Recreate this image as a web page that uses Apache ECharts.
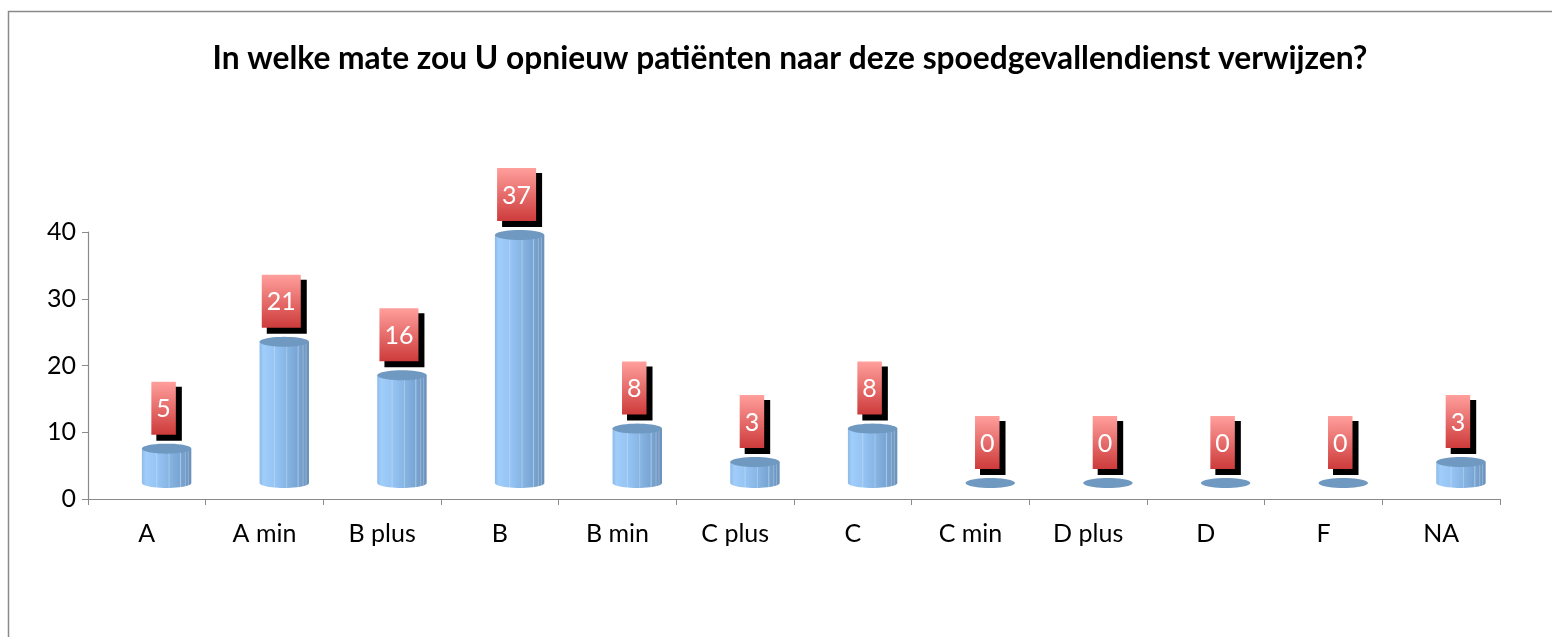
<!DOCTYPE html>
<html>
<head>
<meta charset="utf-8">
<script src="https://cdn.jsdelivr.net/npm/echarts@6/dist/echarts.min.js"></script>
<style>
html,body{margin:0;padding:0;background:#fff;}
#chart{width:1552px;height:637px;}
</style>
</head>
<body>
<div id="chart"></div>
<script>
const titleText = 'In welke mate zou U opnieuw patiënten naar deze spoedgevallendienst verwijzen?';
const categories = ['A', 'A min', 'B plus', 'B', 'B min', 'C plus', 'C', 'C min', 'D plus', 'D', 'F', 'NA'];
const values = [5, 21, 16, 37, 8, 3, 8, 0, 0, 0, 0, 3];
const yMin = 0, yMax = 40, yInterval = 10;

const FONT = 'Lato, "Open Sans", sans-serif';
const measureCtx = document.createElement('canvas').getContext('2d');
function textWidth(t, font) { measureCtx.font = font; return measureCtx.measureText(t).width; }
const titleSize = 30 * 1155 / textWidth(titleText, 'bold 30px ' + FONT);
const labelFontSize = 25;

function ellipsePts(cx, cy, rx, ry, a0, a1, n) {
  const pts = [];
  for (let k = 0; k <= n; k++) {
    const a = a0 + (a1 - a0) * k / n;
    pts.push([cx + rx * Math.cos(a), cy + ry * Math.sin(a)]);
  }
  return pts;
}

function renderItem(params, api) {
  const i = api.value(0);
  const v = api.value(1);
  const base = api.coord([i, 0]);
  const top = api.coord([i, v]);
  const band = api.size([1, 0])[0];
  const w = band * 0.42;
  const cx = base[0] + band * 0.168;
  const L = cx - w / 2, R = cx + w / 2;
  const yb = base[1] - 16;
  const yt = v > 0 ? top[1] - 17 : yb;
  const ry = 5;
  const children = [];
  if (v > 0) {
    const body = [[L, yt]].concat(ellipsePts(cx, yb, w / 2, ry, Math.PI, 0, 24));
    body.push([R, yt]);
    children.push({
      type: 'polygon', shape: { points: body },
      style: { fill: new echarts.graphic.LinearGradient(0, 0, 1, 0, [
        { offset: 0, color: '#8dbbe9' },
        { offset: 0.08, color: '#a0cdfa' },
        { offset: 0.35, color: '#93c2f2' },
        { offset: 0.6, color: '#83b1e0' },
        { offset: 0.76, color: '#79a5d3' },
        { offset: 0.78, color: '#a6c9ed' },
        { offset: 0.80, color: '#7aa4d0' },
        { offset: 1, color: '#6890bb' }
      ]) }
    });
    [0.3, 0.55, 0.88, 0.94].forEach(f => {
      const dy = ry * Math.sqrt(Math.max(0, 1 - Math.pow((f - 0.5) * 2, 2)));
      children.push({ type: 'line', shape: { x1: L + w * f, y1: yt, x2: L + w * f, y2: yb + dy },
        style: { stroke: 'rgba(255,255,255,0.28)', lineWidth: 1 } });
    });
  }
  children.push({
    type: 'polygon', shape: { points: ellipsePts(cx, yt, w / 2, ry, 0, Math.PI * 2, 40) },
    style: { fill: '#7099c2' }
  });
  // label
  const txt = String(values[i]);
  const tw = textWidth(txt, labelFontSize + 'px ' + FONT);
  const bw = tw + 10, bh = 53;
  const bx = cx - 3 - bw / 2;
  const by = yt - 14 - bh;
  children.push({ type: 'rect', shape: { x: bx + 5, y: by + 5, width: bw + 1, height: bh + 1 }, style: { fill: '#000' } });
  children.push({ type: 'rect', shape: { x: bx, y: by, width: bw, height: bh },
    style: { fill: new echarts.graphic.LinearGradient(0, 0, 0, 1, [
      { offset: 0, color: '#ff9f9c' }, { offset: 1, color: '#cd3b3b' }]) } });
  children.push({ type: 'text', style: { text: txt, x: bx + bw / 2, y: by + bh / 2 + 1, align: 'center', verticalAlign: 'middle',
    fill: '#ffffff', font: labelFontSize + 'px ' + FONT } });
  return { type: 'group', children };
}

const chart = echarts.init(document.getElementById('chart'), null, { renderer: 'canvas' });
chart.setOption({
  animation: false,
  backgroundColor: '#ffffff',
  graphic: [
    { type: 'polyline', shape: { points: [[8.5, 640], [8.5, 11.5], [1560, 11.5]] }, style: { stroke: '#8a8a8a', lineWidth: 1.5, fill: null } },
    { type: 'text', style: { text: titleText, x: 790, y: 59, align: 'center', verticalAlign: 'middle', font: 'bold ' + titleSize.toFixed(2) + 'px ' + FONT, fill: '#000' } }
  ],
  grid: { left: 88, right: 52, top: 232, bottom: 138, containLabel: false },
  xAxis: {
    type: 'category', data: categories, boundaryGap: true,
    axisLine: { lineStyle: { color: '#8a8a8a', width: 1.2 } },
    axisTick: { show: true, length: 6, lineStyle: { color: '#8a8a8a' }, alignWithLabel: false },
    axisLabel: { color: '#000', fontFamily: FONT, fontSize: 25, margin: 22, interval: 0 }
  },
  yAxis: {
    type: 'value', min: yMin, max: yMax, interval: yInterval,
    axisLine: { show: true, lineStyle: { color: '#8a8a8a', width: 1.2 } },
    axisTick: { show: true, length: 6, lineStyle: { color: '#8a8a8a' } },
    splitLine: { show: false },
    axisLabel: { color: '#000', fontFamily: FONT, fontSize: 25, margin: 12 }
  },
  series: [{
    type: 'custom', clip: false,
    renderItem: renderItem,
    data: values.map((v, i) => [i, v])
  }]
});
</script>
</body>
</html>
